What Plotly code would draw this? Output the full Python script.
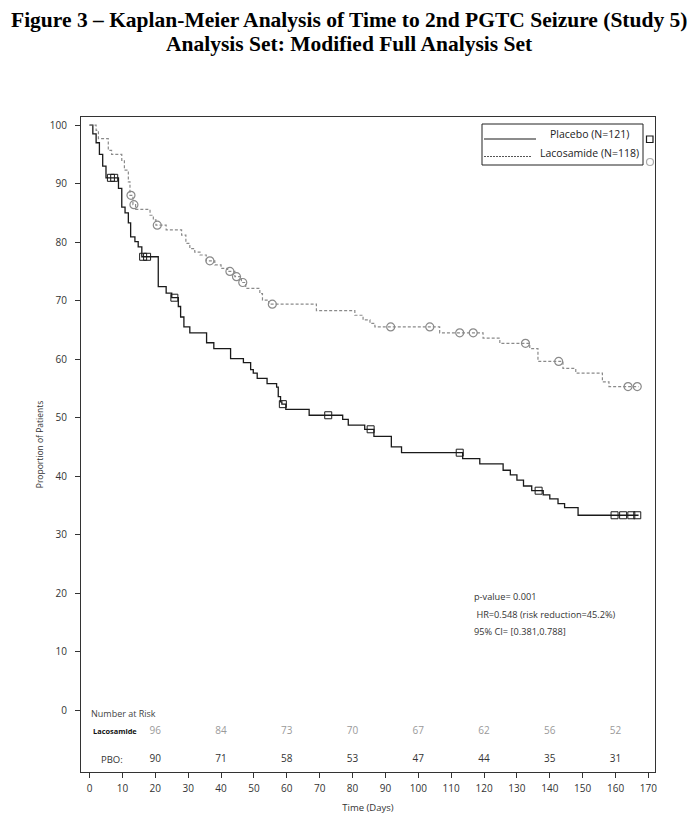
import numpy as np
import plotly.graph_objects as go

# ---------------- data ----------------
pbo_t = [0, 1, 2, 3, 4, 5, 8.8, 9.8, 10.8, 11.8, 12.5, 13.8, 14.8, 15.9, 20.9, 23.3, 25.0, 27.0, 27.7, 28.7,
         30.5, 35.6, 37.8, 42.9, 46.8, 49.0, 49.8, 51.0, 54.0, 56.9, 57.4, 58.1, 58.5, 59.7, 66.8, 77.0, 78.7,
         83.7, 86.5, 91.8, 94.9, 113.5, 118.7, 125.8, 128.0, 130.0, 132.0, 134.5, 138.0, 140.0, 142.5, 144.5,
         148.6, 167.0]
pbo_s = [100, 98.5, 97, 95, 93, 91, 89.2, 86.0, 85.0, 83.3, 80.9, 80.1, 79.2, 77.5, 72.4, 71.3, 70.5, 69.0,
         67.2, 65.5, 64.5, 62.8, 61.8, 60.1, 59.4, 58.2, 57.6, 56.7, 55.8, 55.2, 53.6, 52.7, 52.3, 51.4, 50.4,
         49.7, 48.7, 48.0, 46.8, 45.0, 44.0, 43.0, 42.1, 41.0, 40.2, 39.3, 38.3, 37.5, 36.8, 36.1, 35.3, 34.6,
         33.3, 33.3]
pbo_cens = [6.5, 7.5, 16.3, 17.5, 25.8, 58.8, 72.6, 85.5, 112.6, 136.6, 159.7, 162.3, 164.8, 166.6]

lac_t = [0, 2.0, 2.7, 5.7, 6.7, 9.8, 10.6, 11.8, 12.3, 13.2, 14.0, 18.4, 19.4, 20.2, 23.3, 28.0, 29.3, 30.5,
         32.0, 33.6, 35.5, 38.1, 40.0, 42.0, 44.2, 46.2, 47.5, 51.8, 52.6, 54.5, 69.0, 80.7, 83.2, 85.3, 86.8,
         106.5, 119.7, 124.8, 133.9, 136.4, 144.0, 147.9, 156.0, 158.0, 167.0]
lac_s = [100, 99.1, 97.7, 95.7, 95.0, 94.0, 92.3, 90.3, 88.0, 86.4, 85.6, 84.6, 83.8, 82.9, 82.1, 81.2, 79.8,
         78.9, 78.3, 77.8, 76.8, 76.1, 75.5, 75.0, 74.1, 73.1, 72.1, 71.2, 70.1, 69.4, 68.3, 67.5, 66.7, 66.1,
         65.5, 64.5, 63.6, 62.7, 61.8, 59.6, 58.4, 57.6, 56.1, 55.3, 55.3]
lac_cens = [12.6, 13.5, 20.6, 36.6, 42.7, 44.7, 46.6, 55.6, 91.6, 103.5, 112.6, 116.7, 132.6, 142.7, 163.8, 166.6]

risk_times = [20, 40, 60, 80, 100, 120, 140, 160]
risk_lac = [96, 84, 73, 70, 67, 62, 56, 52]
risk_pbo = [90, 71, 58, 53, 47, 44, 35, 31]

x_ticks = list(range(0, 171, 10))
y_ticks = list(range(0, 101, 10))


def surv_at(times, surv, t):
    idx = np.searchsorted(np.array(times), np.array(t), side="right") - 1
    return list(np.array(surv)[idx])


PBO_COL = "#1a1a1a"
LAC_COL = "#8a8a8a"
SANS = "Open Sans, Noto Sans, sans-serif"

fig = go.Figure()
fig.add_trace(go.Scatter(x=pbo_t, y=pbo_s, mode="lines", line=dict(color=PBO_COL, width=1.3, shape="hv"),
                         showlegend=False, hoverinfo="skip"))
fig.add_trace(go.Scatter(x=lac_t, y=lac_s, mode="lines",
                         line=dict(color=LAC_COL, width=1.2, shape="hv", dash="3px,2px"),
                         showlegend=False, hoverinfo="skip"))
fig.add_trace(go.Scatter(x=pbo_cens, y=surv_at(pbo_t, pbo_s, pbo_cens), mode="markers",
                         marker=dict(symbol="square-open", size=7, color=PBO_COL, line=dict(width=1)),
                         showlegend=False, hoverinfo="skip"))
fig.add_trace(go.Scatter(x=lac_cens, y=surv_at(lac_t, lac_s, lac_cens), mode="markers",
                         marker=dict(symbol="circle-open", size=8, color=LAC_COL, line=dict(width=1.2)),
                         showlegend=False, hoverinfo="skip"))

# number at risk rows
fig.add_trace(go.Scatter(x=risk_times, y=[0.0626] * len(risk_times), yaxis="y2", mode="text",
                         text=[str(v) for v in risk_lac], textfont=dict(size=10, color="#9a9a9a", family=SANS),
                         showlegend=False, hoverinfo="skip"))
fig.add_trace(go.Scatter(x=risk_times, y=[0.0198] * len(risk_times), yaxis="y2", mode="text",
                         text=[str(v) for v in risk_pbo], textfont=dict(size=10, color="#333333", family=SANS),
                         showlegend=False, hoverinfo="skip"))

# page body has an 8px margin: figure is drawn starting at (8, 8)
OFF = 8
W, H = 695, 826
L, R, T, B = 81, 655, 117, 772
pw, ph = R - L, B - T


def px(xp):
    return (xp - L) / pw


def py(yp):
    return (B - yp) / ph


shapes = [
    dict(type="rect", xref="paper", yref="paper", x0=px(482), x1=px(643), y0=py(165), y1=py(124),
         line=dict(color="#222", width=1), fillcolor="white"),
    dict(type="line", xref="paper", yref="paper", x0=px(484), x1=px(536), y0=py(139), y1=py(139),
         line=dict(color=PBO_COL, width=1.2)),
    dict(type="line", xref="paper", yref="paper", x0=px(484), x1=px(532), y0=py(156.5), y1=py(156.5),
         line=dict(color="#555", width=1, dash="2px,1px")),
    dict(type="rect", xref="paper", yref="paper", x0=px(646.5), x1=px(653), y0=py(142.5), y1=py(136),
         line=dict(color=PBO_COL, width=1.2)),
    dict(type="circle", xref="paper", yref="paper", x0=px(646.5), x1=px(653.5), y0=py(165.5), y1=py(158.5),
         line=dict(color="#aaa", width=1.2)),
]

TITLE_FONT = dict(family="Liberation Serif, Times New Roman, serif", size=21.5, color="black")
annotations = [
    dict(text="<b>Figure 3 – Kaplan-Meier Analysis of Time to 2nd PGTC Seizure (Study 5)</b>",
         xref="paper", yref="paper", x=px(349), y=py(20), showarrow=False, xanchor="center", yanchor="middle",
         font=TITLE_FONT),
    dict(text="<b>Analysis Set: Modified Full Analysis Set</b>",
         xref="paper", yref="paper", x=px(349), y=py(44), showarrow=False, xanchor="center", yanchor="middle",
         font=TITLE_FONT),
    dict(text="Placebo (N=121)", xref="paper", yref="paper", x=px(631), y=py(134), showarrow=False,
         xanchor="right", yanchor="middle", font=dict(family=SANS, size=10.5, color="#222")),
    dict(text="Lacosamide (N=118)", xref="paper", yref="paper", x=px(641), y=py(153), showarrow=False,
         xanchor="right", yanchor="middle", font=dict(family=SANS, size=10.5, color="#222")),
    dict(text="p-value= 0.001", xref="paper", yref="paper", x=px(472), y=py(596), showarrow=False,
         xanchor="left", yanchor="middle", font=dict(family=SANS, size=9.2, color="#333")),
    dict(text=" HR=0.548 (risk reduction=45.2%)", xref="paper", yref="paper", x=px(472), y=py(614),
         showarrow=False, xanchor="left", yanchor="middle", font=dict(family=SANS, size=9.2, color="#333")),
    dict(text="95% CI= [0.381,0.788]", xref="paper", yref="paper", x=px(472), y=py(631), showarrow=False,
         xanchor="left", yanchor="middle", font=dict(family=SANS, size=9.2, color="#333")),
    dict(text="Number at Risk", xref="paper", yref="paper", x=px(89), y=py(713), showarrow=False,
         xanchor="left", yanchor="middle", font=dict(family=SANS, size=9, color="#444")),
    dict(text="<b>Lacosamide</b>", xref="paper", yref="paper", x=px(91), y=py(731), showarrow=False,
         xanchor="left", yanchor="middle", font=dict(family=SANS, size=7.4, color="#111")),
    dict(text="PBO:", xref="paper", yref="paper", x=px(99), y=py(759), showarrow=False,
         xanchor="left", yanchor="middle", font=dict(family=SANS, size=9.5, color="#333")),
]

fig.update_layout(
    width=W - OFF, height=H - OFF,
    margin=dict(l=L - OFF, r=W - R, t=T - OFF, b=H - B, pad=0),
    paper_bgcolor="white", plot_bgcolor="white",
    shapes=shapes, annotations=annotations,
    xaxis=dict(range=[-2.6, 172], tickvals=x_ticks, ticks="outside", ticklen=5, tickcolor="#333",
               showline=True, linecolor="#333", linewidth=1.2, mirror=True, showgrid=False, zeroline=False,
               tickfont=dict(family=SANS, size=10, color="#333"), ticklabelstandoff=2,
               title=dict(text="Time (Days)", font=dict(family=SANS, size=9.5, color="#333"), standoff=10)),
    yaxis=dict(range=[-10.6, 101.4], tickvals=y_ticks, ticks="outside", ticklen=5, tickcolor="#333",
               showline=True, linecolor="#333", linewidth=1.2, mirror=True, showgrid=False, zeroline=False,
               tickfont=dict(family=SANS, size=10, color="#333"), ticklabelstandoff=6,
               title=dict(text="Proportion of Patients", font=dict(family=SANS, size=8.5, color="#333"),
                          standoff=4)),
    yaxis2=dict(range=[0, 1], overlaying="y", visible=False),
)

fig.write_html("out.html")
